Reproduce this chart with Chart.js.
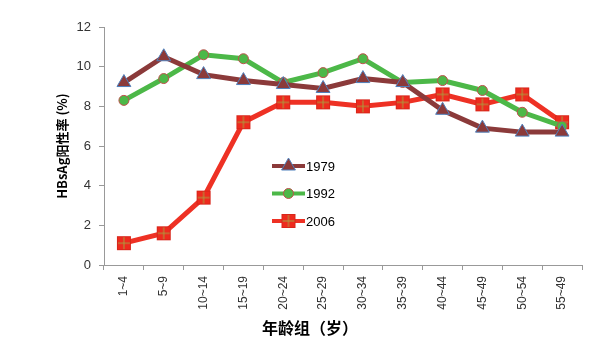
<!DOCTYPE html>
<html><head><meta charset="utf-8">
<script src="https://cdn.jsdelivr.net/npm/chart.js@4.4.0/dist/chart.umd.min.js"></script>
<style>html,body{margin:0;padding:0;background:#fff}#w{width:600px;height:352px}</style>
</head><body><div id="w"><canvas id="c" width="600" height="352"></canvas></div>
<script>
const categories = ['1~4','5~9','10~14','15~19','20~24','25~29','30~34','35~39','40~44','45~49','50~54','55~49'];
const s1979 = [9.2,10.5,9.6,9.3,9.1,8.9,9.4,9.2,7.8,6.9,6.7,6.7];
const s1992 = [8.3,9.4,10.6,10.4,9.2,9.7,10.4,9.2,9.3,8.8,7.7,7.0];
const s2006 = [1.1,1.6,3.4,7.2,8.2,8.2,8.0,8.2,8.6,8.1,8.6,7.2];
const yTicks = [0,2,4,6,8,10,12];
const yTitle = 'HBsAg阳性率 (%)';
const xTitle = '年龄组（岁）';

function squareMarker(){
  const c=document.createElement('canvas');c.width=16;c.height=16;
  const x=c.getContext('2d');
  x.fillStyle='#EE2A1E';x.fillRect(1,1,14,14);
  x.strokeStyle='#D8261A';x.lineWidth=1;x.strokeRect(1.5,1.5,13,13);
  x.strokeStyle='#A8A040';x.beginPath();
  x.moveTo(8,2);x.lineTo(8,14);x.moveTo(2,8);x.lineTo(14,8);x.stroke();
  return c;
}
const sq = squareMarker();

const legendPlugin = {
  id:'inlegend',
  afterDraw(chart){
    const ctx=chart.ctx, a=chart.chartArea;
    const x0=a.left+168, y0=a.top+139, gap=27.5;
    chart.data.datasets.forEach((ds,i)=>{
      const y=y0+i*gap;
      ctx.save();
      ctx.strokeStyle=ds.borderColor;ctx.lineWidth=4;ctx.lineCap='butt';
      ctx.beginPath();ctx.moveTo(x0,y);ctx.lineTo(x0+33,y);ctx.stroke();
      const cx=x0+16.5;
      if(ds.pointStyle instanceof HTMLCanvasElement){
        ctx.drawImage(ds.pointStyle,cx-8,y-8);
      } else {
        ctx.fillStyle=ds.pointBackgroundColor;ctx.strokeStyle=ds.pointBorderColor;ctx.lineWidth=ds.pointBorderWidth;
        ctx.beginPath();
        const r=ds.pointRadius;
        if(ds.pointStyle==='triangle'){
          ctx.moveTo(cx,y-r);ctx.lineTo(cx+r*Math.sin(Math.PI/3),y+r/2);ctx.lineTo(cx-r*Math.sin(Math.PI/3),y+r/2);ctx.closePath();
        } else {ctx.arc(cx,y,r,0,Math.PI*2);}
        ctx.fill();ctx.stroke();
      }
      ctx.fillStyle='#000';ctx.font='13px "Liberation Sans", Arial, sans-serif';
      ctx.textAlign='left';ctx.textBaseline='middle';
      ctx.fillText(ds.label,x0+34,y+1);
      ctx.restore();
    });
    ctx.save();
    ctx.fillStyle='#000';ctx.font='bold 16px "Noto Sans CJK SC", sans-serif';
    ctx.textAlign='center';ctx.textBaseline='middle';
    ctx.fillText(xTitle,a.left+206,a.bottom+63);
    ctx.restore();
  }
};

new Chart(document.getElementById('c'),{
  type:'line',
  data:{labels:categories,datasets:[
    {label:'1979',data:s1979,borderColor:'#8B3A3A',borderWidth:5,pointStyle:'triangle',pointRadius:8,
     pointBackgroundColor:'#8B3A3A',pointBorderColor:'#4F81BD',pointBorderWidth:1,tension:0},
    {label:'1992',data:s1992,borderColor:'#4CB848',borderWidth:5,pointStyle:'circle',pointRadius:5,
     pointBackgroundColor:'#4CB848',pointBorderColor:'#C0504D',pointBorderWidth:1,tension:0},
    {label:'2006',data:s2006,borderColor:'#EE3124',borderWidth:5,pointStyle:sq,pointRadius:8,
     pointBackgroundColor:'#EE2A1E',pointBorderColor:'#D8261A',pointBorderWidth:1,tension:0}
  ]},
  options:{
    responsive:false,animation:false,
    layout:{padding:{left:54,right:18,top:27,bottom:15}},
    plugins:{legend:{display:false},tooltip:{enabled:false}},
    elements:{point:{hoverRadius:0}},
    scales:{
      x:{type:'category',offset:true,
        grid:{drawOnChartArea:false,drawTicks:true,tickLength:5,color:'#999',offset:true},
        border:{color:'#999'},
        ticks:{minRotation:90,maxRotation:90,autoSkip:false,padding:6,color:'#333',
          font:{size:12,family:'"Liberation Sans", Arial, sans-serif'}},
        afterFit:s=>{s.height=72;}
      },
      y:{min:0,max:12,
        afterBuildTicks:s=>{s.ticks=yTicks.map(v=>({value:v}));},
        grid:{drawOnChartArea:false,drawTicks:true,tickLength:5,color:'#999'},
        border:{color:'#999'},
        ticks:{padding:8,color:'#333',font:{size:13,family:'"Liberation Sans", Arial, sans-serif'}},
        title:{display:true,text:yTitle,color:'#000',padding:0,font:{size:13,weight:'bold',family:'"Noto Sans CJK SC", sans-serif'}},
        afterFit:s=>{s.width=50;}
      }
    }
  },
  plugins:[legendPlugin]
});
</script></body></html>
